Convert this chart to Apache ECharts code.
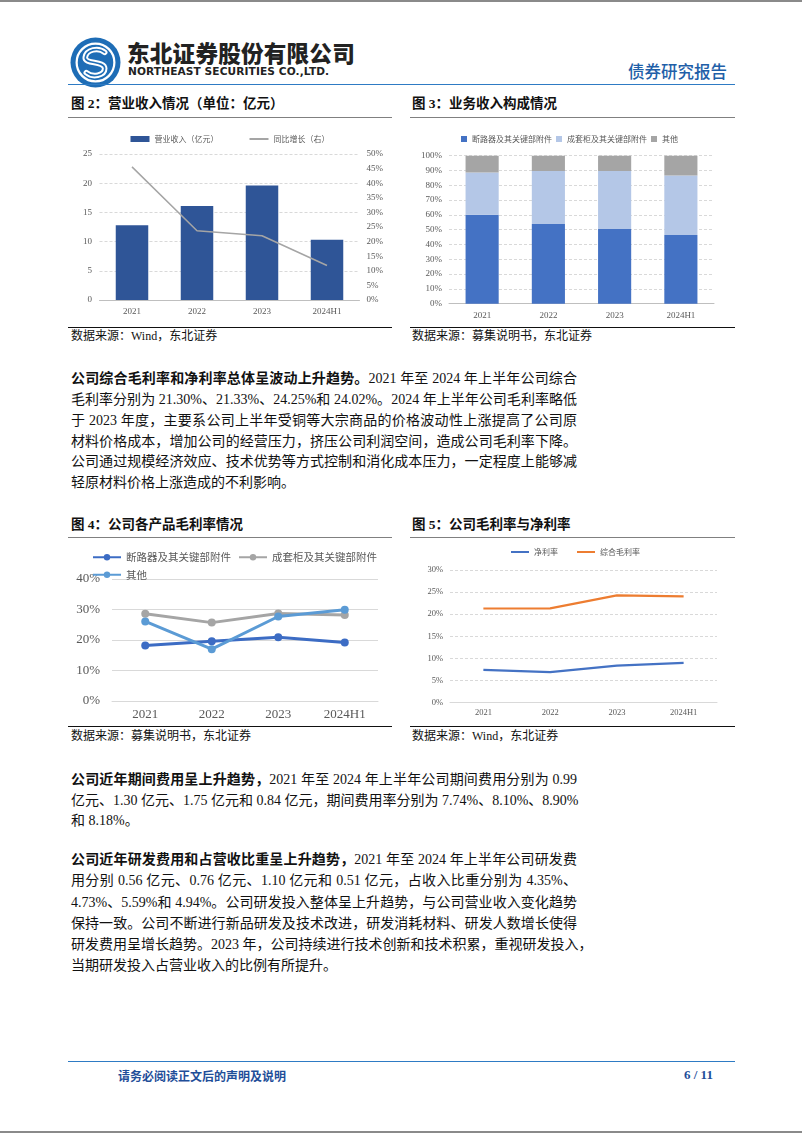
<!DOCTYPE html>
<html>
<head>
<meta charset="utf-8">
<script src="https://cdn.jsdelivr.net/npm/echarts@6/dist/echarts.min.js"></script>
<style>
  html, body { margin: 0; padding: 0; background: #fff; }
  body { width: 802px; height: 1133px; position: relative; overflow: hidden;
         font-family: "Liberation Serif", "Noto Sans CJK SC", serif; color: #111; }
  .abs { position: absolute; }
  .hline { position: absolute; height: 0; }
  .figtitle { position: absolute; font-family: "Liberation Serif", "Noto Sans CJK SC"; font-weight: 700;
              font-size: 13.5px; line-height: 16px; white-space: nowrap; color: #111; }
  .source { position: absolute; font-family: "Liberation Serif", "Noto Sans CJK SC"; font-size: 12px;
            line-height: 14px; white-space: nowrap; color: #111; }
  .para-line { position: absolute; left: 71px; width: 506px; font-size: 14px; line-height: 18px;
               white-space: nowrap; text-align: justify; text-align-last: justify; color: #111; }
  .para-line.last { text-align-last: left; }
  .para-line b { font-weight: 700; }
  .chart { position: absolute; }
</style>
</head>
<body>
<!-- page borders -->
<div class="hline" style="left:0;top:0;width:802px;border-top:2px solid #8a8a8a;"></div>
<div class="hline" style="left:0;top:1131px;width:802px;border-top:2px solid #8a8a8a;"></div>

<!-- header -->
<svg class="abs" style="left:70px;top:37px;" width="51" height="51" viewBox="0 0 50 50">
  <circle cx="25" cy="25" r="24.5" fill="#1E6DB6"/>
  <circle cx="25" cy="25" r="18.5" fill="none" stroke="#fff" stroke-width="2.2"/>
  <path d="M34 15 C 28 10, 16 12, 15 20 C 14 27, 34 23, 34 31 C 34 38, 22 40, 16 35" fill="none" stroke="#fff" stroke-width="5.5" stroke-linecap="round"/>
  <path d="M34 15 C 28 10, 16 12, 15 20 C 14 27, 34 23, 34 31 C 34 38, 22 40, 16 35" fill="none" stroke="#1E6DB6" stroke-width="1.6" stroke-linecap="round"/>
</svg>
<div class="abs" style="left:127px;top:40px;font-family:'Noto Sans CJK SC';font-weight:900;font-size:22.6px;line-height:26px;letter-spacing:0.2px;color:#222;white-space:nowrap;">东北证券股份有限公司</div>
<div class="abs" style="left:128px;top:65px;font-family:'DejaVu Sans';font-weight:700;font-size:10.6px;line-height:13px;letter-spacing:0.1px;color:#222;white-space:nowrap;">NORTHEAST SECURITIES CO.,LTD.</div>
<div class="abs" style="left:628px;top:61px;font-family:'Noto Sans CJK SC';font-weight:500;font-size:16.5px;line-height:20px;color:#1F5FA8;white-space:nowrap;">债券研究报告</div>
<div class="hline" style="left:68px;top:84px;width:667px;border-top:1.5px solid #2E7BC4;"></div>

<!-- figure 2 / 3 titles -->
<div class="figtitle" style="left:71px;top:96px;">图 2：营业收入情况（单位：亿元）</div>
<div class="hline" style="left:68px;top:117px;width:324px;border-top:1.5px solid #808080;"></div>
<div class="figtitle" style="left:412px;top:96px;">图 3：业务收入构成情况</div>
<div class="hline" style="left:410px;top:117px;width:325px;border-top:1.5px solid #808080;"></div>

<div id="c1" class="chart" style="left:60px;top:125px;width:340px;height:200px;"></div>
<div id="c2" class="chart" style="left:405px;top:125px;width:340px;height:200px;"></div>

<div class="hline" style="left:68px;top:327px;width:324px;border-top:1.5px solid #111;"></div>
<div class="hline" style="left:410px;top:327px;width:325px;border-top:1.5px solid #111;"></div>
<div class="source" style="left:71px;top:329px;">数据来源：Wind，东北证券</div>
<div class="source" style="left:412px;top:329px;">数据来源：募集说明书，东北证券</div>

<!-- paragraph 1 -->
<div class="para-line" style="top:370px;"><b>公司综合毛利率和净利率总体呈波动上升趋势。</b>2021 年至 2024 年上半年公司综合</div>
<div class="para-line" style="top:391px;">毛利率分别为 21.30%、21.33%、24.25%和 24.02%。2024 年上半年公司毛利率略低</div>
<div class="para-line" style="top:412px;">于 2023 年度，主要系公司上半年受铜等大宗商品的价格波动性上涨提高了公司原</div>
<div class="para-line" style="top:433px;">材料价格成本，增加公司的经营压力，挤压公司利润空间，造成公司毛利率下降。</div>
<div class="para-line" style="top:453px;">公司通过规模经济效应、技术优势等方式控制和消化成本压力，一定程度上能够减</div>
<div class="para-line last" style="top:474px;">轻原材料价格上涨造成的不利影响。</div>

<!-- figure 4 / 5 titles -->
<div class="figtitle" style="left:71px;top:517px;">图 4：公司各产品毛利率情况</div>
<div class="hline" style="left:68px;top:537px;width:324px;border-top:1.5px solid #808080;"></div>
<div class="figtitle" style="left:412px;top:517px;">图 5：公司毛利率与净利率</div>
<div class="hline" style="left:410px;top:537px;width:325px;border-top:1.5px solid #808080;"></div>

<div id="c3" class="chart" style="left:60px;top:540px;width:340px;height:184px;"></div>
<div id="c4" class="chart" style="left:405px;top:540px;width:340px;height:184px;"></div>

<div class="hline" style="left:68px;top:726px;width:324px;border-top:1.5px solid #111;"></div>
<div class="hline" style="left:410px;top:726px;width:325px;border-top:1.5px solid #111;"></div>
<div class="source" style="left:71px;top:729px;">数据来源：募集说明书，东北证券</div>
<div class="source" style="left:412px;top:729px;">数据来源：Wind，东北证券</div>

<!-- paragraph 2 -->
<div class="para-line" style="top:771px;"><b>公司近年期间费用呈上升趋势，</b>2021 年至 2024 年上半年公司期间费用分别为 0.99</div>
<div class="para-line" style="top:792px;">亿元、1.30 亿元、1.75 亿元和 0.84 亿元，期间费用率分别为 7.74%、8.10%、8.90%</div>
<div class="para-line last" style="top:812px;">和 8.18%。</div>

<!-- paragraph 3 -->
<div class="para-line" style="top:851px;"><b>公司近年研发费用和占营收比重呈上升趋势，</b>2021 年至 2024 年上半年公司研发费</div>
<div class="para-line" style="top:872px;">用分别 0.56 亿元、0.76 亿元、1.10 亿元和 0.51 亿元，占收入比重分别为 4.35%、</div>
<div class="para-line" style="top:894px;">4.73%、5.59%和 4.94%。公司研发投入整体呈上升趋势，与公司营业收入变化趋势</div>
<div class="para-line" style="top:915px;">保持一致。公司不断进行新品研发及技术改进，研发消耗材料、研发人数增长使得</div>
<div class="para-line" style="top:936px;">研发费用呈增长趋势。2023 年，公司持续进行技术创新和技术积累，重视研发投入，</div>
<div class="para-line last" style="top:957px;">当期研发投入占营业收入的比例有所提升。</div>

<!-- footer -->
<div class="hline" style="left:68px;top:1061px;width:667px;border-top:1.5px solid #2E7BC4;"></div>
<div class="abs" style="left:118px;top:1068px;font-family:'Noto Sans CJK SC';font-weight:700;font-size:12px;line-height:15px;color:#1F4E99;white-space:nowrap;">请务必阅读正文后的声明及说明</div>
<div class="abs" style="left:684px;top:1067px;font-family:'Liberation Serif';font-weight:700;font-size:13px;line-height:16px;color:#1F4E99;white-space:nowrap;">6 / 11</div>

<script>
// ---------- data ----------
const years = ['2021', '2022', '2023', '2024H1'];

// Fig 2: revenue (亿元) and YoY growth (%)
const revenue = [12.8, 16.1, 19.6, 10.3];
const revenueGrowth = [45.6, 23.7, 22.0, 11.8];

// Fig 3: business revenue composition (%)
const shareBreaker = [60.1, 53.8, 50.5, 46.4];
const shareCabinet = [28.6, 35.8, 39.1, 40.3];
const shareOther = [11.3, 10.4, 10.4, 13.3];

// Fig 4: gross margin by product (%)
const gmBreaker = [18.2, 19.6, 20.9, 19.2];
const gmCabinet = [28.6, 25.7, 28.7, 28.2];
const gmOther = [26.1, 17.0, 27.7, 29.9];

// Fig 5: net margin & gross margin (%)
const netMargin = [7.4, 6.9, 8.4, 9.0];
const grossMargin = [21.30, 21.33, 24.25, 24.02];

const serif = 'Liberation Serif';
const cjk = 'Noto Sans CJK SC';
const labelColor = '#595959';
const noMarker = {opacity: 0};

// ---------- Fig 2 ----------
const c1 = echarts.init(document.getElementById('c1'));
c1.setOption({
  animation: false,
  legend: {
    top: 5, left: 'center', itemGap: 30,
    textStyle: {fontFamily: cjk, fontSize: 8, color: labelColor},
    data: [
      {name: '营业收入（亿元）', icon: 'rect', itemStyle: {color: '#2F5597'}},
      {name: '同比增长（右）', itemStyle: noMarker}
    ],
    itemWidth: 19, itemHeight: 6
  },
  grid: {left: 39.5, right: 40.5, top: 29, bottom: 25},
  xAxis: {
    type: 'category', data: years,
    axisLine: {lineStyle: {color: '#BFBFBF', width: 1}},
    axisTick: {show: false},
    axisLabel: {fontFamily: serif, fontSize: 9, color: labelColor, margin: 7.5}
  },
  yAxis: [
    {type: 'value', min: 0, max: 25, interval: 5,
     axisLine: {show: false}, axisTick: {show: false},
     axisLabel: {fontFamily: serif, fontSize: 9, color: labelColor, margin: 7.5},
     splitLine: {lineStyle: {color: '#D9D9D9', type: [3, 2]}}},
    {type: 'value', min: 0, max: 50, interval: 5,
     axisLine: {show: false}, axisTick: {show: false},
     axisLabel: {fontFamily: serif, fontSize: 9, color: labelColor, margin: 7, formatter: '{value}%'},
     splitLine: {show: false}}
  ],
  series: [
    {name: '营业收入（亿元）', type: 'bar', data: revenue, barWidth: '50%',
     itemStyle: {color: '#2F5597'}},
    {name: '同比增长（右）', type: 'line', yAxisIndex: 1, data: revenueGrowth,
     symbol: 'none', lineStyle: {color: '#A5A5A5', width: 1.5}, itemStyle: {color: '#A5A5A5'}}
  ]
});

// ---------- Fig 3 ----------
const c2 = echarts.init(document.getElementById('c2'));
const stackNames = ['断路器及其关键部附件', '成套柜及其关键部附件', '其他'];
const stackData = [shareBreaker, shareCabinet, shareOther];
const stackColors = ['#4472C4', '#B4C7E7', '#A5A5A5'];
c2.setOption({
  animation: false,
  legend: {
    top: 5, left: 51, itemGap: 4, itemWidth: 6, itemHeight: 6,
    icon: 'rect',
    textStyle: {fontFamily: cjk, fontSize: 8, color: labelColor},
    data: stackNames
  },
  grid: {left: 44, right: 31, top: 30.7, bottom: 21.3},
  xAxis: {
    type: 'category', data: years,
    axisLine: {lineStyle: {color: '#BFBFBF', width: 1}},
    axisTick: {show: false},
    axisLabel: {fontFamily: serif, fontSize: 9, color: labelColor, margin: 7}
  },
  yAxis: {
    type: 'value', min: 0, max: 100, interval: 10,
    axisLine: {show: false}, axisTick: {show: false},
    axisLabel: {fontFamily: serif, fontSize: 9, color: labelColor, margin: 7, formatter: '{value}%'},
    splitLine: {lineStyle: {color: '#D9D9D9', type: [3, 2]}}
  },
  series: stackNames.map((n, i) => ({
    name: n, type: 'bar', stack: 'total', data: stackData[i], barWidth: '50%',
    itemStyle: {color: stackColors[i]}
  }))
});

// ---------- Fig 4 ----------
const c3 = echarts.init(document.getElementById('c3'));
const gmNames = ['断路器及其关键部附件', '成套柜及其关键部附件', '其他'];
const gmData = [gmBreaker, gmCabinet, gmOther];
const gmColors = ['#3C6CC4', '#A5A5A5', '#5B9BD5'];
c3.setOption({
  animation: false,
  legend: {
    top: 7, left: 27, width: 300, itemGap: 7, itemWidth: 28, itemHeight: 8,
    textStyle: {fontFamily: cjk, fontSize: 10.5, color: labelColor},
    data: gmNames
  },
  grid: {left: 52, right: 22, top: 39, bottom: 23},
  xAxis: {
    type: 'category', data: years,
    axisLine: {lineStyle: {color: '#D9D9D9', width: 1}},
    axisTick: {show: false},
    axisLabel: {fontFamily: serif, fontSize: 13, color: labelColor, margin: 7.5}
  },
  yAxis: {
    type: 'value', min: 0, max: 40, interval: 10,
    axisLine: {show: false}, axisTick: {show: false},
    axisLabel: {fontFamily: serif, fontSize: 13, color: labelColor, margin: 12, formatter: '{value}%'},
    splitLine: {lineStyle: {color: '#D9D9D9', type: 'solid'}}
  },
  series: gmNames.map((n, i) => ({
    name: n, type: 'line', data: gmData[i],
    symbol: 'circle', symbolSize: 8,
    lineStyle: {color: gmColors[i], width: 3},
    itemStyle: {color: gmColors[i]}
  }))
});

// ---------- Fig 5 ----------
const c4 = echarts.init(document.getElementById('c4'));
c4.setOption({
  animation: false,
  legend: {
    top: 3, left: 'center', itemGap: 18, itemWidth: 18, itemHeight: 6,
    textStyle: {fontFamily: cjk, fontSize: 8, color: labelColor},
    data: [{name: '净利率', itemStyle: noMarker}, {name: '综合毛利率', itemStyle: noMarker}]
  },
  grid: {left: 45, right: 28, top: 30, bottom: 21.3},
  xAxis: {
    type: 'category', data: years,
    axisLine: {lineStyle: {color: '#D9D9D9', width: 1}},
    axisTick: {show: false},
    axisLabel: {fontFamily: serif, fontSize: 8.5, color: labelColor, margin: 6}
  },
  yAxis: {
    type: 'value', min: 0, max: 30, interval: 5,
    axisLine: {show: false}, axisTick: {show: false},
    axisLabel: {fontFamily: serif, fontSize: 8.5, color: labelColor, margin: 7, formatter: '{value}%'},
    splitLine: {lineStyle: {color: '#D9D9D9', type: [3, 2]}}
  },
  series: [
    {name: '净利率', type: 'line', data: netMargin, symbol: 'none',
     lineStyle: {color: '#4472C4', width: 2.2}, itemStyle: {color: '#4472C4'}},
    {name: '综合毛利率', type: 'line', data: grossMargin, symbol: 'none',
     lineStyle: {color: '#ED7D31', width: 2.2}, itemStyle: {color: '#ED7D31'}}
  ]
});
</script>
</body>
</html>
